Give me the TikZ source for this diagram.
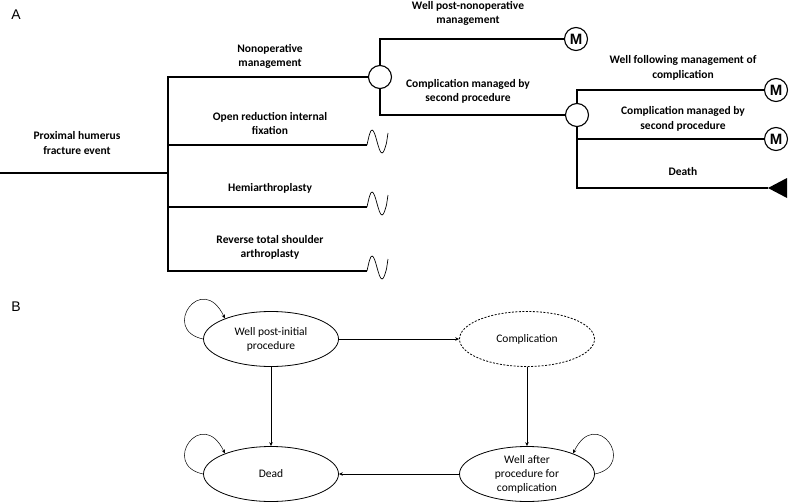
\documentclass[tikz,border=0pt]{standalone}
\usepackage{fontspec}
\setmainfont{Carlito}
\newfontfamily\panelfont{Liberation Sans}
\usetikzlibrary{shapes}
\usetikzlibrary{shapes.geometric}
\usetikzlibrary{arrows.meta}
\tikzset{
    branch/.style = {draw=black, line width=1.6pt, line join=miter},
    wave/.style = {draw=black, line width=0.7pt},
    mychance/.style = {circle, draw=black, line width=1.1pt, fill=white, minimum size=23pt, inner sep=0pt},
    mymarkov/.style = {circle, draw=black, line width=1.1pt, fill=white, minimum size=23pt, inner sep=0pt, font=\fontsize{15}{15}\selectfont\panelfont\bfseries},
    mylabel/.style = {align=center, inner sep=0pt, font=\fontsize{11.5}{14.5}\selectfont\bfseries},
    mystate/.style = {ellipse, draw=black, line width=0.8pt, minimum width=135pt, minimum height=55pt, inner sep=0pt, align=center, font=\fontsize{11.5}{14}\selectfont},
    mystated/.style = {mystate, dash pattern=on 2pt off 1.5pt},
    edgen/.style = {-{Stealth[length=4pt,width=3.5pt]}, line width=0.9pt},
    edgel/.style = {-{Stealth[length=4pt,width=3.5pt]}, line width=0.5pt},
    panel/.style = {inner sep=0pt, font=\fontsize{14}{14}\selectfont\panelfont}
}

\begin{document}
\begin{tikzpicture}[x=1pt, y=-1pt]
\useasboundingbox (0,0) rectangle (795,503);
%
% A: decision tree
\node[panel] (pa) at (16,15) {A};
\coordinate (start) at (0,173);
\coordinate (fork) at (168,173);
\node[mychance] (c1) at (380,77) {};
\node[mychance] (c2) at (577,115) {};
\node[mymarkov] (m1) at (576,39) {M};
\node[mymarkov] (m2) at (776,90) {M};
\node[mymarkov] (m3) at (776,139) {M};
\coordinate (orif) at (367,145);
\coordinate (hemi) at (367,207);
\coordinate (rtsa) at (367,271);
\coordinate (dth) at (768,188);
%
\draw[branch] (start) -- (fork);
\draw[branch] (fork) |- (c1);
\draw[branch] (fork) |- (orif);
\draw[branch] (fork) |- (hemi);
\draw[branch] (fork) |- (rtsa);
\draw[branch] (c1) |- (m1);
\draw[branch] (c1) |- (c2);
\draw[branch] (c2) |- (m2);
\draw[branch] (c2) |- (m3);
\draw[branch] (c2) |- (dth);
\fill (dth) -- ++(19,-10) -- ++(0,20) -- cycle;
\foreach \w in {orif,hemi,rtsa}
  \draw[wave] (\w) sin ++(5,-15) cos ++(5,11.5) sin ++(5,11.5) cos ++(4.5,-10) -- ++(1.5,-10);
%
\node[mylabel] (l0) at (77,143) {Proximal humerus\\fracture event};
\node[mylabel] (l1) at (270,56.5) {Nonoperative\\management};
\node[mylabel] (l2) at (270,123.5) {Open reduction internal\\fixation};
\node[mylabel] (l3) at (270,188) {Hemiarthroplasty};
\node[mylabel] (l4) at (270,247.5) {Reverse total shoulder\\arthroplasty};
\node[mylabel] (l5) at (468,13.5) {Well post-nonoperative\\management};
\node[mylabel] (l6) at (468,91.5) {Complication managed by\\second procedure};
\node[mylabel] (l7) at (683,68) {Well following management of\\complication};
\node[mylabel] (l8) at (683,119) {Complication managed by\\second procedure};
\node[mylabel] (l9) at (683,172) {Death};
%
% B: Markov states
\node[panel] (pb) at (16,307) {B};
\node[mystate] (w1) at (271,339) {Well post-initial\\procedure};
\node[mystated] (cp) at (527,339) {Complication};
\node[mystate] (dd) at (271,474) {Dead};
\node[mystate] (w2) at (527,474) {Well after\\procedure for\\complication};
%
\draw[edgen] (w1) -- (cp);
\draw[edgen] (w1) -- (dd);
\draw[edgen] (cp) -- (w2);
\draw[edgen] (w2) -- (dd);
\draw[edgel] (w1.west) .. controls +(-43,-9) and +(-23,-48) .. (w1.156);
\draw[edgel] (dd.west) .. controls +(-43,-9) and +(-23,-48) .. (dd.156);
\draw[edgel] (w2.east) .. controls +(43,-9) and +(23,-48) .. (w2.24);

\end{tikzpicture}
\end{document}
